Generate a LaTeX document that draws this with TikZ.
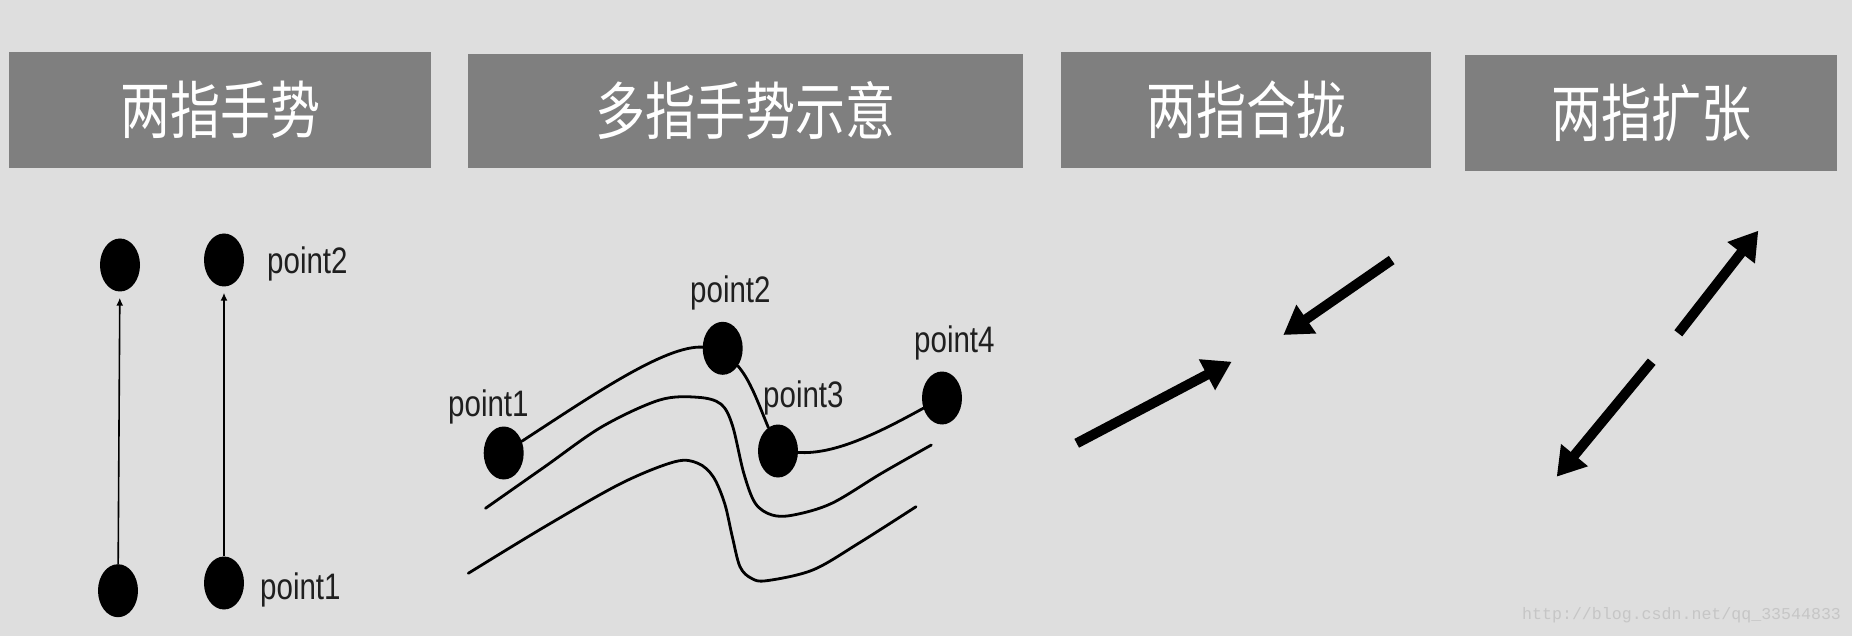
\documentclass[tikz,border=0pt]{standalone}
\usepackage{fontspec}
\setmainfont{Liberation Sans}
\newfontfamily\cjk{Noto Sans CJK SC}
\newfontfamily\wmfont{Liberation Mono}
\usetikzlibrary{shapes.geometric,arrows.meta}
\definecolor{bg}{HTML}{DEDEDE}
\definecolor{hdr}{HTML}{7F7F7F}
\definecolor{wm}{HTML}{C6C6C6}
\newcommand{\tallt}[1]{\scalebox{1}[1.25]{#1}}
\begin{document}
\begin{tikzpicture}[x=1pt,y=-1pt,
  hdrbox/.style={fill=hdr, draw=none, inner sep=0, text=white,
    font=\cjk\fontsize{50}{56}\selectfont},
  dot/.style={ellipse, fill=black, draw=none, inner sep=0,
    minimum width=40pt, minimum height=53pt},
  lbl/.style={inner sep=0, anchor=base west, text=black!88,
    font=\fontsize{29.5}{34}\selectfont},
  thin arrow/.style={line width=1.6pt, -{Latex[length=8pt,width=7pt]}},
  curve/.style={line width=2.8pt, line cap=round},
  fat arrow/.style={line width=10pt, -{Triangle[length=28pt,width=33pt]}},
]
\fill[bg] (0,0) rectangle (1852,636);
\useasboundingbox (0,0) rectangle (1852,636);

% headers
\node[hdrbox, minimum width=422pt, minimum height=116pt] (h1) at (220,110) {\tallt{两指手势}};
\node[hdrbox, minimum width=555pt, minimum height=114pt] (h2) at (745.5,111) {\tallt{多指手势示意}};
\node[hdrbox, minimum width=370pt, minimum height=116pt] (h3) at (1246,110) {\tallt{两指合拢}};
\node[hdrbox, minimum width=372pt, minimum height=116pt] (h4) at (1651,113) {\tallt{两指扩张}};

% panel 1
\node[dot] (t1) at (120,265) {};
\node[dot] (b1) at (118,590.7) {};
\node[dot] (t2) at (224,260) {};
\node[dot] (b2) at (224,583) {};
\draw[thin arrow, shorten >=6pt] (b1) -- (t1);
\draw[thin arrow, shorten >=6pt] (b2) -- (t2);
\node[lbl] (l12) at (267,274) {\tallt{point2}};
\node[lbl] (l11) at (260,599) {\tallt{point1}};

% panel 2
\draw[curve] plot[smooth, tension=0.55] coordinates {(485.5,508.3) (544.8,466.7) (602,426.7) (659.6,400) (697.9,397.3) (720.8,404) (732.3,425) (743.8,473.3) (755.3,503.3) (772,515) (793.5,515) (831.8,503.3) (881.5,473.3) (931.3,445)};
\draw[curve] plot[smooth, tension=0.55] coordinates {(468.3,573.3) (544.8,526.7) (621.3,483.3) (674.9,461.7) (697.9,463.3) (713.2,476.7) (724.6,503.3) (732.3,536.7) (740,566.7) (751.4,578.3) (766.7,580.7) (812.7,570) (858.6,543.3) (916,506.7)};
\node[dot] (p1) at (503.7,453) {};
\node[dot] (p2) at (722.7,348.3) {};
\node[dot] (p3) at (778,451) {};
\node[dot] (p4) at (942,398) {};
\draw[curve] (p1) .. controls (590,397) and (665,345) .. (p2);
\draw[curve] (p2) .. controls (750,380) and (757,400) .. (p3);
\draw[curve] (p3) .. controls (835,455) and (880,432) .. (p4);
\node[lbl] (l21) at (448,416.7) {\tallt{point1}};
\node[lbl] (l22) at (690,302.4) {\tallt{point2}};
\node[lbl] (l23) at (763,407.4) {\tallt{point3}};
\node[lbl] (l24) at (914,352.4) {\tallt{point4}};

% panel 3
\coordinate (a1s) at (1076.7,443.3);
\coordinate (a1e) at (1231.7,361.7);
\coordinate (a2s) at (1391.7,260);
\coordinate (a2e) at (1283.3,335);
\draw[fat arrow] (a1s) -- (a1e);
\draw[fat arrow] (a2s) -- (a2e);

% panel 4
\coordinate (e1s) at (1678.3,333.3);
\coordinate (e1e) at (1758.3,230.7);
\coordinate (e2s) at (1651.7,361.7);
\coordinate (e2e) at (1556.7,476.7);
\draw[fat arrow] (e1s) -- (e1e);
\draw[fat arrow] (e2s) -- (e2e);

% watermark
\node[inner sep=0, anchor=base west, text=wm, font=\wmfont\fontsize{16.6}{18}\selectfont] (wmk) at (1522,619) {http://blog.csdn.net/qq\_33544833};
\end{tikzpicture}
\end{document}
